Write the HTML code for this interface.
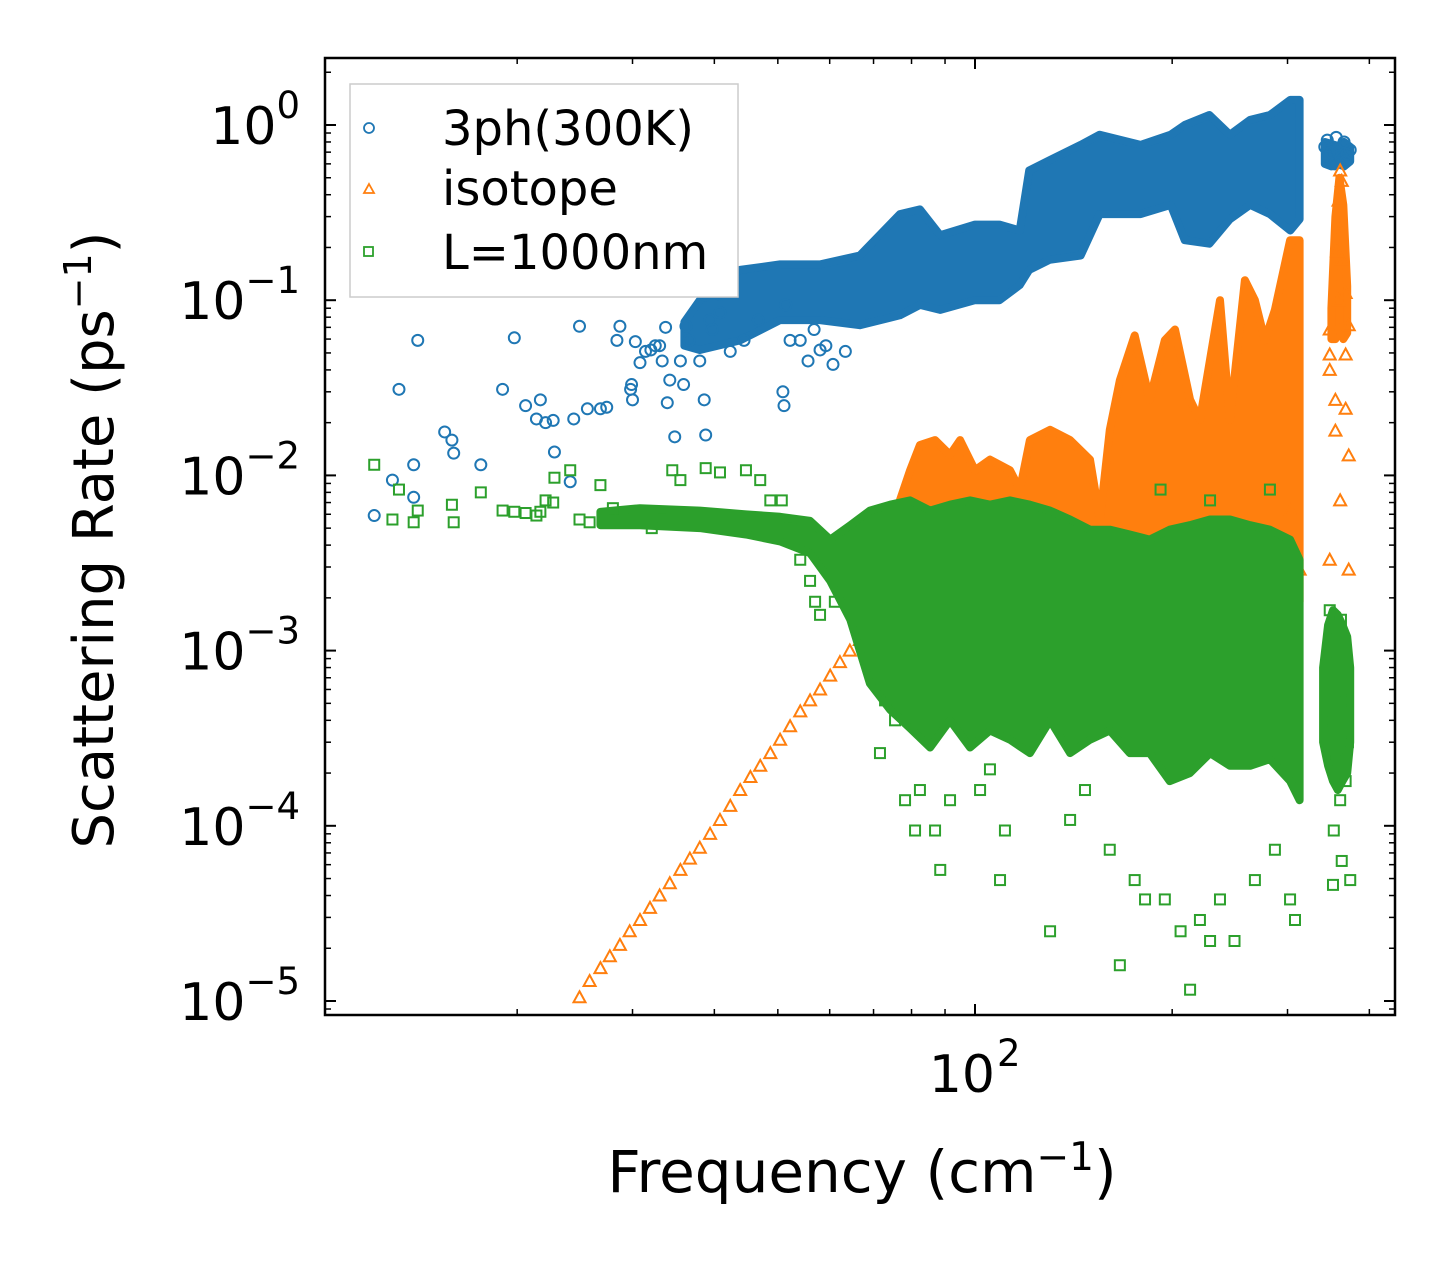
<!DOCTYPE html>
<html><head><meta charset="utf-8"><style>
body{margin:0;background:#fff}
svg{display:block;font-family:"DejaVu Sans","Liberation Sans",sans-serif}
</style></head><body>
<svg id="chart" width="1455" height="1265" viewBox="0 0 1455 1265" xmlns="http://www.w3.org/2000/svg">
<rect width="1455" height="1265" fill="#fff"/>
<g id="marks"></g>
<g id="axes"></g>
<text x="862" y="1192" font-size="58" text-anchor="middle">Frequency (cm<tspan dy="-22" font-size="39">−1</tspan><tspan dy="22">)</tspan></text>
<text transform="translate(113,540) rotate(-90)" font-size="56" text-anchor="middle">Scattering Rate (ps<tspan dy="-22" font-size="38">−1</tspan><tspan dy="22">)</tspan></text>
<g>
<rect x="350" y="84" width="388" height="213" fill="#fff" stroke="#ccc" stroke-width="1.5"/>
<circle cx="369" cy="128" r="5" fill="none" stroke="#1f77b4" stroke-width="1.8"/>
<text x="442" y="145" font-size="48">3ph(300K)</text>
<path d="M369,184 L374,193 L364,193 Z" fill="none" stroke="#ff7f0e" stroke-width="1.8"/>
<text x="442" y="205" font-size="48">isotope</text>
<rect x="364" y="247" width="9" height="9" fill="none" stroke="#2ca02c" stroke-width="1.8"/>
<text x="442" y="269" font-size="48">L=1000nm</text>
</g>
</svg>
<script>
// ---- data ----
const blueFreq=[12.1,12.9,13.2,13.9,13.9,14.1,15.5,15.9,16.0,17.6,19.0,19.8,20.6,21.4,21.7,22.1,22.7,22.8,24.1,24.4,24.9,25.6,26.8,27.4,28.4,28.7,29.8,29.9,30.0,30.3,30.8,31.4,32.0,32.5,33.0,33.3,33.7,33.9,34.2,34.8,35.5,35.9,36.2,36.6,38.0,38.6,38.8,39.4,39.7,40.8,42.3,44.4,46.7,50.9,51.1,51.4,52.2,54.1,55.6,56.8,58.0,59.2,60.7,63.4,37.7,38.7,40.8,342,346,350,354,358,362,366,370,374,345,356,368];
const blueRate=[0.0059,0.0094,0.031,0.0115,0.0075,0.059,0.0177,0.0159,0.0134,0.0115,0.031,0.061,0.025,0.021,0.027,0.020,0.0206,0.0136,0.0092,0.021,0.071,0.024,0.024,0.0245,0.059,0.071,0.031,0.033,0.027,0.058,0.044,0.051,0.052,0.055,0.055,0.045,0.070,0.026,0.035,0.0166,0.045,0.033,0.071,0.059,0.045,0.027,0.017,0.077,0.068,0.085,0.051,0.059,0.077,0.030,0.025,0.094,0.059,0.059,0.045,0.068,0.052,0.055,0.043,0.051,0.114,0.107,0.108,0.75,0.66,0.70,0.60,0.72,0.65,0.80,0.68,0.72,0.82,0.85,0.62];
const blueBandFreq=[36.0,38.0,43.8,50.4,58.0,66.7,76.8,82.4,88.5,100,109,117,121,130,145,155,179,199,209,228,245,263,282,303,313];
const blueBandHi=[0.075,0.1,0.149,0.16,0.16,0.18,0.31,0.33,0.235,0.27,0.27,0.25,0.55,0.63,0.77,0.88,0.77,0.88,1.0,1.14,0.88,1.07,1.14,1.39,1.39];
const blueBandLo=[0.055,0.052,0.059,0.077,0.077,0.072,0.082,0.094,0.088,0.1,0.1,0.122,0.149,0.17,0.18,0.31,0.31,0.35,0.22,0.21,0.29,0.35,0.31,0.25,0.29];
const blueClusterFreq=[342,350,358,366,374];
const blueClusterHi=[0.8,0.78,0.76,0.8,0.75];
const blueClusterLo=[0.6,0.58,0.6,0.58,0.62];

const orangeFreq=[24.9,25.8,26.8,27.7,28.7,29.7,30.8,31.9,33.0,34.2,35.5,36.7,38.0,39.4,40.8,42.3,43.8,45.4,47.0,48.7,50.4,52.2,54.1,56.0,58.0,60.1,62.2,64.4,66.7,348,348,348,355,355,361,348,368,372,372,372,368,361,363,359,361,363,368,359,357,208,313,303];
const orangeRate=[1.05e-5,1.3e-5,1.54e-5,1.8e-5,2.09e-5,2.5e-5,2.9e-5,3.4e-5,4.0e-5,4.7e-5,5.6e-5,6.5e-5,7.5e-5,9e-5,1.08e-4,1.3e-4,1.6e-4,1.9e-4,2.2e-4,2.6e-4,3.1e-4,3.7e-4,4.5e-4,5.2e-4,6.0e-4,7.2e-4,8.6e-4,1.0e-3,1.15e-3,0.068,0.049,0.040,0.027,0.018,0.0072,0.0033,0.024,0.013,0.0029,0.072,0.049,0.55,0.48,0.37,0.25,0.17,0.11,0.1,0.19,0.0027,0.0029,0.0063];
const orangeBandFreq=[66.7,71.6,76.8,79.6,82.4,86.9,91.6,94.9,100,105.4,113.1,117.1,121.3,130.2,139.7,149.8,155.1,160.6,166.4,175.3,184.8,194.9,202,213,220.5,228.5,236.6,245,258.3,267.5,277.1,287,302.7,313];
const orangeBandHi=[0.0015,0.0033,0.0072,0.0107,0.0149,0.0159,0.0131,0.0159,0.0107,0.0123,0.0107,0.0083,0.0159,0.0182,0.0159,0.0123,0.0056,0.0182,0.035,0.063,0.027,0.059,0.068,0.027,0.0207,0.046,0.1,0.0207,0.13,0.1,0.059,0.088,0.22,0.22];
const orangeBandLo=[0.0012,0.0019,0.0019,0.0019,0.0019,0.0019,0.0019,0.0019,0.0019,0.0019,0.0019,0.0019,0.0019,0.0019,0.0019,0.0019,0.0019,0.0019,0.0019,0.0019,0.0019,0.0019,0.0019,0.0019,0.0019,0.0019,0.0019,0.0019,0.0019,0.0019,0.0019,0.0019,0.0019,0.0019];
const orangeClusterFreq=[350,355,360,365,370];
const orangeClusterHi=[0.09,0.3,0.5,0.35,0.12];
const orangeClusterLo=[0.06,0.06,0.07,0.06,0.065];

const greenFreq=[12.1,12.9,13.2,13.9,14.1,15.9,16.0,17.6,19.0,19.8,20.6,21.4,21.7,22.1,22.7,22.8,24.1,24.9,25.8,26.8,28.0,29.2,30.8,32.1,33.0,34.5,35.5,38.8,40.8,44.7,47.0,48.7,50.7,52.2,54.1,56.0,57.0,58.0,61.1,66.7,71.6,72.9,75.5,78.2,81.0,82.4,86.9,88.5,91.6,101.8,105.4,109.2,111.1,130.2,139.7,147.2,160.6,166.4,175.3,181.8,194.9,206,213,220.5,228.5,236.6,249,267.5,287,302.7,308,192,282,228.5,348,350,355,362,366,345,357,361,368,363,352,374,353,371];
const greenRate=[0.0115,0.0056,0.0083,0.0054,0.0063,0.0068,0.0054,0.0080,0.0063,0.0062,0.0061,0.0059,0.0062,0.0072,0.0070,0.0097,0.0107,0.0056,0.0054,0.0088,0.0065,0.0061,0.0056,0.0050,0.0056,0.0107,0.0094,0.011,0.0104,0.0107,0.0094,0.0072,0.0072,0.0050,0.0033,0.0025,0.0019,0.0016,0.0019,0.00115,2.6e-4,5.2e-4,4.0e-4,1.4e-4,9.4e-5,1.6e-4,9.4e-5,5.6e-5,1.4e-4,1.6e-4,2.1e-4,4.9e-5,9.4e-5,2.5e-5,1.08e-4,1.6e-4,7.3e-5,1.6e-5,4.9e-5,3.8e-5,3.8e-5,2.5e-5,1.16e-5,2.9e-5,2.2e-5,3.8e-5,2.2e-5,4.9e-5,7.3e-5,3.8e-5,2.9e-5,0.0083,0.0083,0.0072,0.0017,0.00115,8.7e-4,0.0015,5.2e-4,4.0e-4,2.4e-4,1.4e-4,1.8e-4,6.3e-5,4.6e-5,4.9e-5,9.4e-5,3.0e-4];
const greenBandFreq=[26.8,30.8,38.0,44.7,50.4,56.0,60.1,64.5,69.1,74.2,79.6,85.4,91.6,98.3,105.4,113.1,121.3,130.2,139.7,149.8,160.6,172.3,184.8,198.3,212.8,228.5,245,263,282,302.7,313];
const greenBandHi=[0.0062,0.0065,0.0063,0.0060,0.0058,0.0055,0.0043,0.0052,0.0063,0.0068,0.0072,0.0063,0.0068,0.0072,0.0068,0.0072,0.0068,0.0063,0.0056,0.0049,0.0049,0.0046,0.0043,0.0049,0.0052,0.0056,0.0056,0.0052,0.0049,0.0043,0.0033];
const greenBandLo=[0.0052,0.0052,0.0050,0.0046,0.0042,0.0036,0.0025,0.0015,6.5e-4,4.6e-4,3.6e-4,2.8e-4,4.0e-4,2.8e-4,3.5e-4,3.1e-4,2.6e-4,4.0e-4,2.6e-4,3.1e-4,3.5e-4,2.6e-4,2.6e-4,1.8e-4,2.0e-4,2.6e-4,2.2e-4,2.2e-4,2.4e-4,1.8e-4,1.4e-4];
const greenClusterFreq=[340,346,352,358,364,370,374];
const greenClusterHi=[0.0008,0.0014,0.0017,0.0016,0.0014,0.0012,0.0008];
const greenClusterLo=[0.0003,0.00022,0.00018,0.00016,0.00018,0.0002,0.0003];

const yTickValues=[1,0.1,0.01,0.001,0.0001,0.00001];
const yTickLabels=["0","−1","−2","−3","−4","−5"];
const xMajorTicks=[100];
const xMinorTicks=[20,30,40,50,60,70,80,90,200,300,400];

// ---- axes ----
const X0=325,X1=1395,Y0=58,Y1=1015;
const xPerDec=655, xRef=975;
function xs(f){return xRef+xPerDec*Math.log10(f/100);}
const yPerDec=175.2, yRef=125;
function ys(v){return yRef-yPerDec*Math.log10(v);}
const NS="http://www.w3.org/2000/svg";
const marks=document.getElementById('marks');
const axes=document.getElementById('axes');
function mk(tag,attrs,parent){const e=document.createElementNS(NS,tag);for(const k in attrs)e.setAttribute(k,attrs[k]);parent.appendChild(e);return e;}

function band(fr,hi,lo,color,name){
  let d='';
  for(let i=0;i<fr.length;i++)d+=(i?'L':'M')+xs(fr[i]).toFixed(1)+','+ys(hi[i]).toFixed(1);
  for(let i=fr.length-1;i>=0;i--)d+='L'+xs(fr[i]).toFixed(1)+','+ys(lo[i]).toFixed(1);
  d+='Z';
  const p=mk('path',{d:d,fill:color,stroke:color,'stroke-width':8,'stroke-linejoin':'round'},marks);
  
  
}
function circles(fr,rt,color,name){
  for(let i=0;i<fr.length;i++){
    const c=mk('circle',{cx:xs(fr[i]),cy:ys(rt[i]),r:5.5,fill:'none',stroke:color,'stroke-width':2},marks);
    
    
  }
}
function tris(fr,rt,color,name){
  for(let i=0;i<fr.length;i++){
    const x=xs(fr[i]),y=ys(rt[i]);
    const t=mk('path',{d:`M${x},${y-6}L${x+6},${y+5}L${x-6},${y+5}Z`,fill:'none',stroke:color,'stroke-width':2},marks);
    
    
  }
}
function squares(fr,rt,color,name){
  for(let i=0;i<fr.length;i++){
    const s=mk('rect',{x:xs(fr[i])-5,y:ys(rt[i])-5,width:10,height:10,fill:'none',stroke:color,'stroke-width':2},marks);
    
    
  }
}
const B='#1f77b4',O='#ff7f0e',G='#2ca02c';
band(blueBandFreq,blueBandHi,blueBandLo,B,'3ph-dense-band');
band(blueClusterFreq,blueClusterHi,blueClusterLo,B,'3ph-high-freq-cluster');
circles(blueFreq,blueRate,B,'3ph-point');
band(orangeBandFreq,orangeBandHi,orangeBandLo,O,'isotope-dense-band');
band(orangeClusterFreq,orangeClusterHi,orangeClusterLo,O,'isotope-high-freq-cluster');
tris(orangeFreq,orangeRate,O,'isotope-point');
band(greenBandFreq,greenBandHi,greenBandLo,G,'boundary-dense-band');
band(greenClusterFreq,greenClusterHi,greenClusterLo,G,'boundary-high-freq-cluster');
squares(greenFreq,greenRate,G,'boundary-point');

// frame
const fr=mk('rect',{x:X0,y:Y0,width:X1-X0,height:Y1-Y0,fill:'none',stroke:'#000','stroke-width':2.5},axes);


// y ticks
for(let d=0;d<yTickValues.length;d++){
  const v=yTickValues[d],y=ys(v);
  mk('line',{x1:X0,x2:X0+11,y1:y,y2:y,stroke:'#000','stroke-width':2},axes);
  mk('line',{x1:X1,x2:X1-11,y1:y,y2:y,stroke:'#000','stroke-width':2},axes);
  const t=mk('text',{x:300,y:y+19,'font-size':52,'text-anchor':'end'},axes);
  
  
  t.appendChild(document.createTextNode('10'));
  const s=mk('tspan',{dy:-26,'font-size':37},t);
  s.textContent=yTickLabels[d];
}
for(let e=-6;e<=0;e++){
  for(let m=2;m<=9;m++){
    const y=ys(m*Math.pow(10,e));
    if(y<Y0+1||y>Y1-1)continue;
    mk('line',{x1:X0,x2:X0+6,y1:y,y2:y,stroke:'#000','stroke-width':1.5},axes);
    mk('line',{x1:X1,x2:X1-6,y1:y,y2:y,stroke:'#000','stroke-width':1.5},axes);
  }
}
// x ticks
xMajorTicks.forEach(v=>{
  const x=xs(v);
  mk('line',{x1:x,x2:x,y1:Y1,y2:Y1-11,stroke:'#000','stroke-width':2},axes);
  mk('line',{x1:x,x2:x,y1:Y0,y2:Y0+11,stroke:'#000','stroke-width':2},axes);
  const t=mk('text',{x:x+20,y:1092,'font-size':52,'text-anchor':'end'},axes);
  t.textContent='10';
  
  
  const s=mk('text',{x:x+22,y:1066,'font-size':37},axes);
  s.textContent='2';
  
  
});
xMinorTicks.forEach(v=>{
  const x=xs(v);
  if(x<X0||x>X1)return;
  mk('line',{x1:x,x2:x,y1:Y1,y2:Y1-6,stroke:'#000','stroke-width':1.5},axes);
  mk('line',{x1:x,x2:x,y1:Y0,y2:Y0+6,stroke:'#000','stroke-width':1.5},axes);
});
</script>
</body></html>
